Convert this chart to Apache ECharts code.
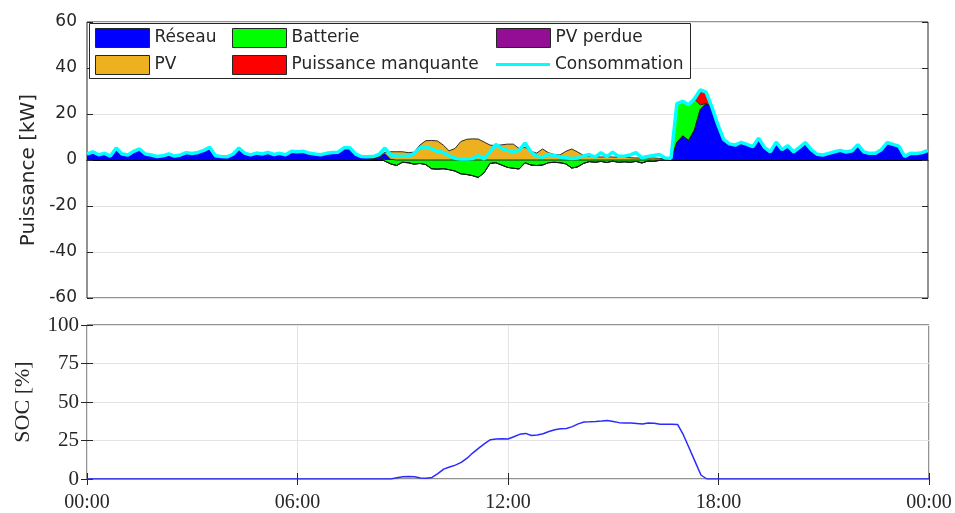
<!DOCTYPE html>
<html>
<head>
<meta charset="utf-8">
<script src="https://cdn.jsdelivr.net/npm/echarts@6/dist/echarts.min.js"></script>
<style>
  html, body { margin: 0; padding: 0; background: #fff; }
  #chart { width: 955px; height: 513px; }
</style>
</head>
<body>
<div id="chart"></div>
<script>
// One sample every 10 minutes over the day (145 samples, 00:00 .. 24:00)
const STEP_HOURS = 1 / 6;
const timeLabels = ['00:00', '06:00', '12:00', '18:00', '00:00'];

// Power flows [kW]
const consommation = [
  2.6, 3.5, 2.3, 2.9, 1.7, 5.2, 2.6, 2.2, 3.8, 4.8, 2.6, 2.2,
  1.5, 1.8, 2.6, 1.7, 2.2, 3.2, 2.8, 3.3, 4.2, 5.5, 1.8, 1.5,
  1.4, 2.5, 5.2, 3.0, 2.2, 3.0, 2.6, 3.3, 2.4, 2.9, 2.3, 3.8,
  3.6, 3.8, 3.0, 2.6, 2.3, 2.9, 3.3, 3.4, 5.3, 5.3, 2.6, 1.5,
  1.4, 1.5, 2.4, 5.2, 2.2, 1.6, 1.6, 1.6, 2.8, 5.2, 5.8, 4.8,
  3.8, 3.3, 1.8, 0.8, 0.4, 0.4, 0.6, 1.9, 0.5, 3.5, 6.8, 5.0,
  4.2, 3.6, 4.2, 7.4, 3.5, 1.6, 1.2, 2.4, 2.0, 1.3, 1.0, 0.7,
  0.9, 1.8, 2.4, 1.2, 3.2, 1.5, 3.4, 1.6, 1.6, 2.2, 3.2, 1.0,
  1.5, 2.0, 2.4, 0.9, 0.8, 24.5, 25.5, 24.0, 26.5, 30.5, 29.5, 23.0,
  15.5, 9.0, 7.0, 6.5, 7.7, 6.8, 5.8, 9.5, 5.5, 3.5, 7.8, 4.5,
  6.2, 3.5, 5.5, 7.6, 4.5, 2.5, 2.2, 2.9, 3.6, 4.2, 3.5, 4.0,
  6.7, 3.5, 2.9, 2.9, 4.5, 7.6, 6.8, 6.0, 1.6, 2.9, 2.8, 3.2,
  4.2
];

const reseau = [
  2.6, 3.5, 2.3, 2.9, 1.7, 5.2, 2.6, 2.2, 3.8, 4.8, 2.6, 2.2,
  1.5, 1.8, 2.6, 1.7, 2.2, 3.2, 2.8, 3.3, 4.2, 5.5, 1.8, 1.5,
  1.4, 2.5, 5.2, 3.0, 2.2, 3.0, 2.6, 3.3, 2.4, 2.9, 2.3, 3.8,
  3.6, 3.8, 3.0, 2.6, 2.3, 2.9, 3.3, 3.4, 5.3, 5.3, 2.6, 1.5,
  1.2, 0.4, 1.2, 2.8, 0.3, 0, 0, 0, 0, 0, 0, 0,
  0, 0, 0, 0, 0, 0, 0, 0, 0, 0, 0, 0,
  0, 0, 0, 0, 0, 0, 0, 0, 0, 0, 0, 0,
  0, 0, 0, 0, 0, 0, 0, 0, 0, 0, 0, 0,
  0, 0, 0, 0, 0, 7.7, 10.5, 8.5, 13.0, 22.0, 24.5, 23.0,
  15.5, 9.0, 7.0, 6.5, 7.7, 6.8, 5.8, 9.5, 5.5, 3.5, 7.8, 4.5,
  6.2, 3.5, 5.5, 7.6, 4.5, 2.5, 2.2, 2.9, 3.6, 4.2, 3.5, 4.0,
  6.7, 3.5, 2.9, 2.9, 4.5, 7.6, 6.8, 6.0, 1.6, 2.9, 2.8, 3.2,
  4.2
];

const pv = [
  0, 0, 0, 0, 0, 0, 0, 0, 0, 0, 0, 0,
  0, 0, 0, 0, 0, 0, 0, 0, 0, 0, 0, 0,
  0, 0, 0, 0, 0, 0, 0, 0, 0, 0, 0, 0,
  0, 0, 0, 0, 0, 0, 0, 0, 0, 0, 0, 0,
  0, 0.1, 0.3, 0.6, 3.3, 3.6, 3.6, 3.2, 3.4, 6.5, 8.4, 8.5,
  8.3, 6.5, 4.0, 5.0, 8.0, 9.0, 9.2, 9.1, 7.8, 6.5, 6.2, 6.6,
  6.9, 6.9, 5.0, 5.5, 3.8, 3.0, 4.8, 3.2, 2.4, 2.2, 3.8, 4.8,
  3.5, 2.0, 1.6, 1.4, 1.3, 1.4, 1.3, 1.2, 1.2, 1.0, 0.9, 0.9,
  0.8, 0.9, 0.7, 0.4, 0.2, 0, 0, 0, 0, 0, 0, 0,
  0, 0, 0, 0, 0, 0, 0, 0, 0, 0, 0, 0,
  0, 0, 0, 0, 0, 0, 0, 0, 0, 0, 0, 0,
  0, 0, 0, 0, 0, 0, 0, 0, 0, 0, 0, 0,
  0
];

const batterie = [
  0, 0, 0, 0, 0, 0, 0, 0, 0, 0, 0, 0,
  0, 0, 0, 0, 0, 0, 0, 0, 0, 0, 0, 0,
  0, 0, 0, 0, 0, 0, 0, 0, 0, 0, 0, 0,
  0, 0, 0, 0, 0, 0, 0, 0, 0, 0, 0, 0,
  0, 0, 0, -0.5, -1.7, -2.4, -1.0, -1.2, -1.8, -1.5, -2.0, -3.8,
  -4.0, -3.8, -4.2, -4.8, -6.0, -6.3, -6.8, -7.6, -5.5, -1.5, -1.2, -2.2,
  -3.2, -3.6, -3.9, -1.2, -2.2, -2.4, -2.2, -1.2, -1.0, -1.2, -1.7, -3.5,
  -3.0, -1.5, -0.7, -1.0, -0.6, -1.1, -0.5, -1.0, -0.8, -1.0, -0.6, -1.3,
  -0.5, -0.6, -0.2, -0.1, 0, 16.8, 15.0, 15.5, 13.5, 2.0, 0, 0,
  0, 0, 0, 0, 0, 0, 0, 0, 0, 0, 0, 0,
  0, 0, 0, 0, 0, 0, 0, 0, 0, 0, 0, 0,
  0, 0, 0, 0, 0, 0, 0, 0, 0, 0, 0, 0,
  0
];

const puissanceManquante = [
  0, 0, 0, 0, 0, 0, 0, 0, 0, 0, 0, 0,
  0, 0, 0, 0, 0, 0, 0, 0, 0, 0, 0, 0,
  0, 0, 0, 0, 0, 0, 0, 0, 0, 0, 0, 0,
  0, 0, 0, 0, 0, 0, 0, 0, 0, 0, 0, 0,
  0, 0, 0, 0, 0, 0, 0, 0, 0, 0, 0, 0,
  0, 0, 0, 0, 0, 0, 0, 0, 0, 0, 0, 0,
  0, 0, 0, 0, 0, 0, 0, 0, 0, 0, 0, 0,
  0, 0, 0, 0, 0, 0, 0, 0, 0, 0, 0, 0,
  0, 0, 0, 0, 0, 0, 0, 0, 0, 6.5, 5.0, 0,
  0, 0, 0, 0, 0, 0, 0, 0, 0, 0, 0, 0,
  0, 0, 0, 0, 0, 0, 0, 0, 0, 0, 0, 0,
  0, 0, 0, 0, 0, 0, 0, 0, 0, 0, 0, 0,
  0
];

const pvPerdue = [
  0, 0, 0, 0, 0, 0, 0, 0, 0, 0, 0, 0,
  0, 0, 0, 0, 0, 0, 0, 0, 0, 0, 0, 0,
  0, 0, 0, 0, 0, 0, 0, 0, 0, 0, 0, 0,
  0, 0, 0, 0, 0, 0, 0, 0, 0, 0, 0, 0,
  0, 0, 0, 0, 0, 0, 0, 0, 0, 0, 0, 0,
  0, 0, 0, 0, 0, 0, 0, 0, 0, 0, 0, 0,
  0, 0, 0, 0, 0, 0, 0, 0, 0, 0, 0, 0,
  0, 0, 0, 0, 0, 0, 0, 0, 0, 0, 0, 0,
  0, 0, 0, 0, 0, 0, 0, 0, 0, 0, 0, 0,
  0, 0, 0, 0, 0, 0, 0, 0, 0, 0, 0, 0,
  0, 0, 0, 0, 0, 0, 0, 0, 0, 0, 0, 0,
  0, 0, 0, 0, 0, 0, 0, 0, 0, 0, 0, 0,
  0
];

// Battery state of charge [%]
const soc = [
  0, 0, 0, 0, 0, 0, 0, 0, 0, 0, 0, 0,
  0, 0, 0, 0, 0, 0, 0, 0, 0, 0, 0, 0,
  0, 0, 0, 0, 0, 0, 0, 0, 0, 0, 0, 0,
  0, 0, 0, 0, 0, 0, 0, 0, 0, 0, 0, 0,
  0, 0, 0, 0, 0, 0.8, 1.5, 1.6, 1.4, 0.6, 0.5, 1.0,
  3.5, 6.4, 7.8, 9.0, 10.8, 13.5, 17.0, 20.0, 23.0, 25.5, 26.0, 26.2,
  26.0, 27.4, 29.0, 29.6, 28.2, 28.6, 29.4, 30.8, 32.0, 32.6, 32.8, 34.0,
  35.8, 37.0, 37.1, 37.3, 37.6, 38.0, 37.3, 36.6, 36.4, 36.3, 36.0, 35.7,
  36.3, 36.2, 35.6, 35.5, 35.5, 35.4, 28.6, 20.0, 11.3, 2.6, 0, 0,
  0, 0, 0, 0, 0, 0, 0, 0, 0, 0, 0, 0,
  0, 0, 0, 0, 0, 0, 0, 0, 0, 0, 0, 0,
  0, 0, 0, 0, 0, 0, 0, 0, 0, 0, 0, 0,
  0
];

const COLORS = {
  reseau: '#0000FF',
  pv: '#EDB120',
  batterie: '#00FF00',
  manquante: '#FF0000',
  perdue: '#930D95',
  conso: '#00FFFF',
  soc: '#2B2BFF',
  axis: '#262626',
  grid: '#E3E3E3'
};

// Sample instants in hours, used as categories for the stacked power panel
const sampleHours = consommation.map((_, i) => i * STEP_HOURS);
const toPairs = arr => arr.map((v, i) => [sampleHours[i], v]);

const SANS = 'DejaVu Sans';
const SERIF = 'Liberation Serif';

function stackedArea(name, values, color) {
  return {
    name: name,
    type: 'line',
    xAxisIndex: 0,
    yAxisIndex: 0,
    stack: 'puissance',
    symbol: 'none',
    color: color,
    lineStyle: { color: '#1a1a1a', width: 0.9 },
    areaStyle: { color: color, opacity: 1 },
    data: values,
    z: 2
  };
}

function areaLegendItem(name) {
  return { name: name, icon: 'rect', itemStyle: { borderColor: COLORS.axis, borderWidth: 1 } };
}

const legendBase = {
  orient: 'vertical',
  top: 28,
  padding: 0,
  itemWidth: 54,
  itemHeight: 19,
  itemGap: 7,
  selectedMode: false,
  z: 20,
  textStyle: { fontFamily: SANS, fontSize: 17, color: COLORS.axis }
};

const chart = echarts.init(document.getElementById('chart'), null, { renderer: 'canvas' });

chart.setOption({
  animation: false,
  backgroundColor: '#fff',
  grid: [
    { left: 87, top: 22, width: 841, height: 276, show: true, borderColor: COLORS.axis, borderWidth: 1, backgroundColor: 'transparent' },
    { left: 87, top: 325, width: 842, height: 157, show: true, borderColor: COLORS.axis, borderWidth: 1, backgroundColor: 'transparent' }
  ],
  graphic: [
    {
      type: 'rect',
      z: 15,
      shape: { x: 89.5, y: 23.5, width: 601, height: 55 },
      style: { fill: '#fff', stroke: COLORS.axis, lineWidth: 1 }
    }
  ],
  legend: [
    Object.assign({}, legendBase, { left: 95, data: [areaLegendItem('Réseau'), areaLegendItem('PV')] }),
    Object.assign({}, legendBase, { left: 232, data: [areaLegendItem('Batterie'), areaLegendItem('Puissance manquante')] }),
    Object.assign({}, legendBase, { left: 496, data: [areaLegendItem('PV perdue')] }),
    Object.assign({}, legendBase, {
      left: 496, top: 56, itemHeight: 3,
      data: [{ name: 'Consommation', icon: 'rect', itemStyle: { color: COLORS.conso, borderWidth: 0 } }]
    })
  ],
  xAxis: [
    {
      // power panel: only the zero baseline is drawn
      type: 'category', gridIndex: 0, data: sampleHours, boundaryGap: false,
      axisLine: { show: true, onZero: true, lineStyle: { color: '#000', width: 1 } },
      axisTick: { show: false }, axisLabel: { show: false }, splitLine: { show: false }
    },
    {
      type: 'value', gridIndex: 1, min: 0, max: 24, interval: 6, position: 'bottom',
      axisLine: { show: false },
      axisTick: { show: true, inside: true, length: 6, lineStyle: { color: COLORS.axis } },
      axisLabel: {
        show: true, margin: 14, fontFamily: SERIF, fontSize: 20, color: COLORS.axis,
        showMinLabel: true, showMaxLabel: true,
        formatter: v => timeLabels[Math.round(v / 6)]
      },
      splitLine: { show: true, lineStyle: { color: COLORS.grid, width: 1 } }
    },
    {
      type: 'value', gridIndex: 1, min: 0, max: 24, interval: 6, position: 'top',
      axisLine: { show: false },
      axisTick: { show: true, inside: true, length: 6, lineStyle: { color: COLORS.axis } },
      axisLabel: { show: false }, splitLine: { show: false }
    }
  ],
  yAxis: [
    {
      type: 'value', gridIndex: 0, min: -60, max: 60, interval: 20, position: 'left',
      name: 'Puissance [kW]', nameLocation: 'middle', nameGap: 46,
      nameTextStyle: { fontFamily: SANS, fontSize: 20, color: COLORS.axis, padding: [0, 20, 0, 0] },
      axisLine: { show: false },
      axisTick: { show: true, inside: true, length: 6, lineStyle: { color: COLORS.axis } },
      axisLabel: { margin: 10, fontFamily: SANS, fontSize: 17, color: COLORS.axis },
      splitLine: { show: true, lineStyle: { color: COLORS.grid, width: 1 } }
    },
    {
      type: 'value', gridIndex: 0, min: -60, max: 60, interval: 20, position: 'right',
      axisLine: { show: false },
      axisTick: { show: true, inside: true, length: 6, lineStyle: { color: COLORS.axis } },
      axisLabel: { show: false }, splitLine: { show: false }
    },
    {
      type: 'value', gridIndex: 1, min: 0, max: 100, interval: 25, position: 'left',
      name: 'SOC [%]', nameLocation: 'middle', nameGap: 53,
      nameTextStyle: { fontFamily: SERIF, fontSize: 22, color: COLORS.axis },
      axisLine: { show: false },
      axisTick: { show: true, inside: true, length: 6, lineStyle: { color: COLORS.axis } },
      axisLabel: { margin: 8, fontFamily: SERIF, fontSize: 21, color: COLORS.axis },
      splitLine: { show: true, lineStyle: { color: COLORS.grid, width: 1 } }
    },
    {
      type: 'value', gridIndex: 1, min: 0, max: 100, interval: 25, position: 'right',
      axisLine: { show: false },
      axisTick: { show: true, inside: true, length: 6, lineStyle: { color: COLORS.axis } },
      axisLabel: { show: false }, splitLine: { show: false }
    }
  ],
  series: [
    stackedArea('Réseau', reseau, COLORS.reseau),
    stackedArea('PV', pv, COLORS.pv),
    stackedArea('Batterie', batterie, COLORS.batterie),
    stackedArea('Puissance manquante', puissanceManquante, COLORS.manquante),
    stackedArea('PV perdue', pvPerdue, COLORS.perdue),
    {
      name: 'Consommation',
      type: 'line',
      xAxisIndex: 0,
      yAxisIndex: 0,
      symbol: 'none',
      color: COLORS.conso,
      lineStyle: { color: COLORS.conso, width: 3.5 },
      data: consommation,
      z: 5
    },
    {
      name: 'SOC',
      type: 'line',
      xAxisIndex: 1,
      yAxisIndex: 2,
      symbol: 'none',
      color: COLORS.soc,
      lineStyle: { color: COLORS.soc, width: 1.5 },
      data: toPairs(soc),
      z: 5
    }
  ]
});
</script>
</body>
</html>
